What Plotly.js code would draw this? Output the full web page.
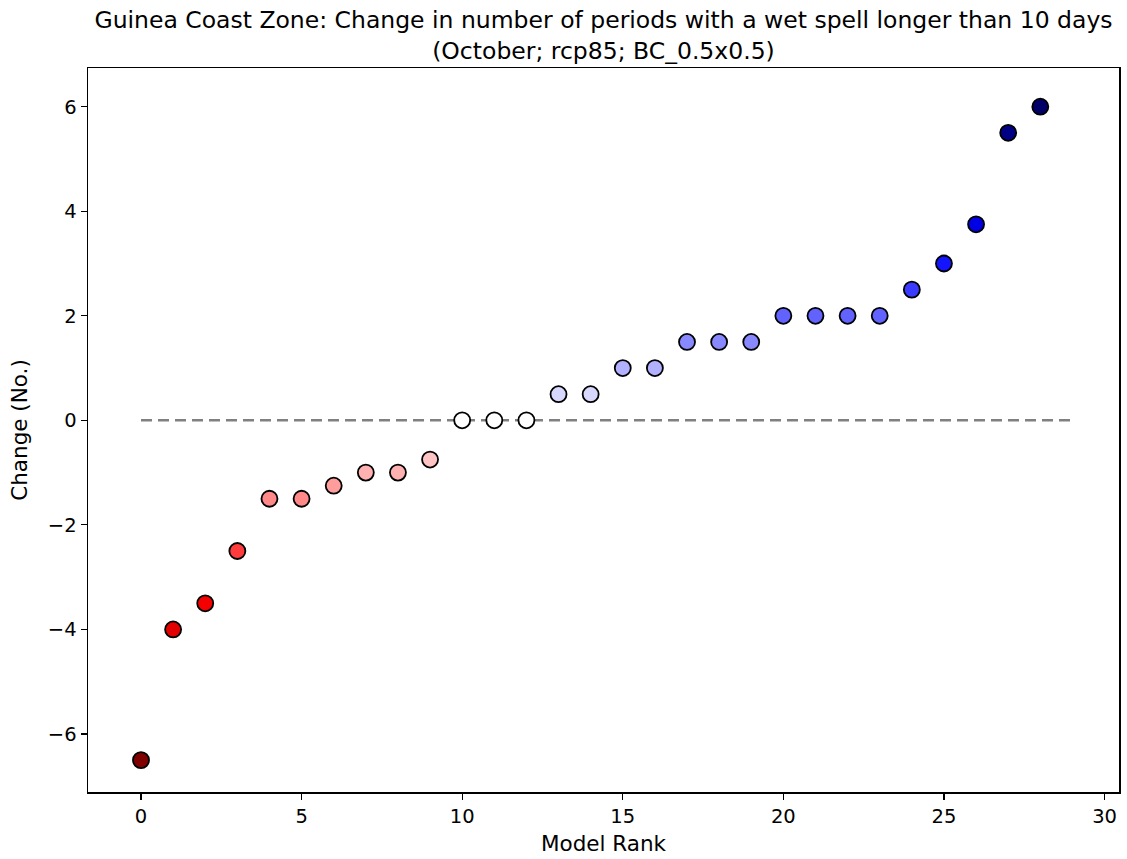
<!DOCTYPE html>
<html>
<head>
<meta charset="utf-8">
<script src="https://cdn.plot.ly/plotly-3.0.1.min.js"></script>
<style>html,body{margin:0;padding:0;background:#fff;}#chart{width:1127px;height:859px;}</style>
</head>
<body>
<div id="chart"></div>
<script>
const modelRank = [0,1,2,3,4,5,6,7,8,9,10,11,12,13,14,15,16,17,18,19,20,21,22,23,24,25,26,27,28];
const changeValues = [-6.5,-4,-3.5,-2.5,-1.5,-1.5,-1.25,-1,-1,-0.75,0,0,0,0.5,0.5,1,1,1.5,1.5,1.5,2,2,2,2,2.5,3,3.75,5.5,6];
const xTicks = [0,5,10,15,20,25,30];
const yTicks = [-6,-4,-2,0,2,4,6];

// seismic colormap reversed (red for negative, blue for positive)
const seismicR = [
  [0.0, 'rgb(128,0,0)'],
  [0.25, 'rgb(255,0,0)'],
  [0.5, 'rgb(255,255,255)'],
  [0.75, 'rgb(0,0,255)'],
  [1.0, 'rgb(0,0,77)']
];
const maxAbs = Math.max(...changeValues.map(Math.abs));

const zeroLine = {
  x: [0, modelRank.length],
  y: [0, 0],
  mode: 'lines',
  line: {color: '#808080', width: 2.5, dash: '11px,6px'},
  hoverinfo: 'skip',
  showlegend: false
};
const points = {
  x: modelRank,
  y: changeValues,
  mode: 'markers',
  marker: {
    size: 16,
    color: changeValues,
    colorscale: seismicR,
    cmin: -maxAbs,
    cmax: maxAbs,
    line: {color: '#000000', width: 1.8}
  },
  showlegend: false
};

const tickFont = {family: 'DejaVu Sans', size: 19.5, color: '#000'};
const labelFont = {family: 'DejaVu Sans', size: 21.5, color: '#000'};
const layout = {
  width: 1127,
  height: 859,
  margin: {l: 88, r: 8, t: 68, b: 67},
  paper_bgcolor: '#fff',
  plot_bgcolor: '#fff',
  font: {family: 'DejaVu Sans', color: '#000'},
  title: {
    text: 'Guinea Coast Zone: Change in number of periods with a wet spell longer than 10 days<br>(October; rcp85; BC_0.5x0.5)',
    font: {family: 'DejaVu Sans', size: 23.5, color: '#000'},
    x: 0.5, xref: 'paper', xanchor: 'center',
    y: 0.967, yref: 'container', yanchor: 'top'
  },
  xaxis: {
    range: [-1.65, 30.45],
    tickvals: xTicks,
    ticktext: xTicks.map(String),
    ticks: 'outside', ticklen: 6, tickwidth: 1.2, tickcolor: '#000',
    showgrid: false, zeroline: false,
    showline: true, mirror: true, linecolor: '#000', linewidth: 1.5,
    tickfont: tickFont,
    title: {text: 'Model Rank', font: labelFont, standoff: 9}
  },
  yaxis: {
    range: [-7.11, 6.74],
    tickvals: yTicks,
    ticktext: yTicks.map(v => v < 0 ? '\u2212' + Math.abs(v) : String(v)),
    ticks: 'outside', ticklen: 6, tickwidth: 1.2, tickcolor: '#000',
    showgrid: false, zeroline: false,
    showline: true, mirror: true, linecolor: '#000', linewidth: 1.5,
    tickfont: tickFont,
    title: {text: 'Change (No.)', font: labelFont, standoff: 14}
  }
};
Plotly.newPlot('chart', [zeroLine, points], layout, {displayModeBar: false, staticPlot: true});
</script>
</body>
</html>
